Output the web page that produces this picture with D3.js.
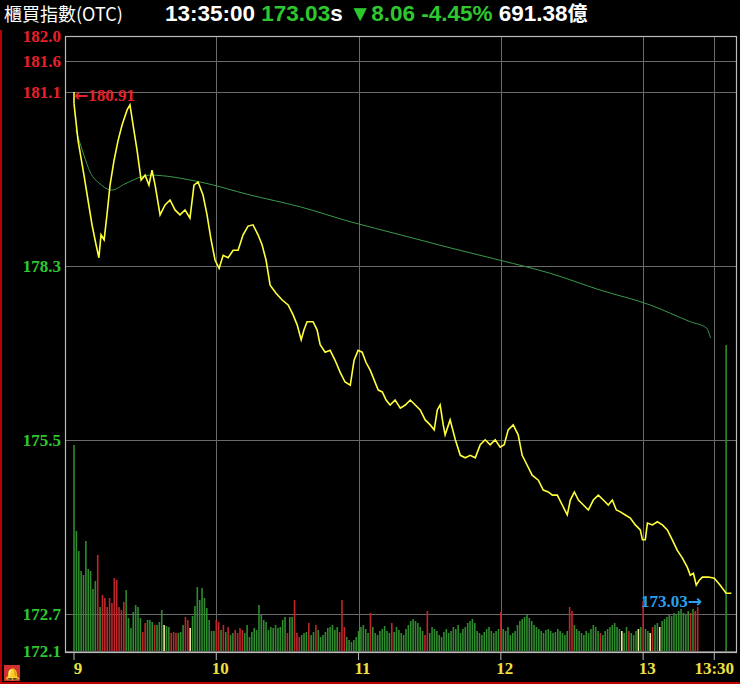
<!DOCTYPE html>
<html><head><meta charset="utf-8">
<script src="https://cdn.jsdelivr.net/npm/d3@7"></script>
<style>body{margin:0;background:#000}svg{display:block}</style>
</head><body>
<svg id="c" width="740" height="684"></svg>
<script>
// ---- data ----
const priceTicks = [182.0, 181.6, 181.1, 178.3, 175.5, 172.7, 172.1];
const refPrice = 180.91;
const lastPrice = 173.03;
const timeTicks = [0, 60, 120, 180, 240, 270];
const timeLabels = ["9", "10", "11", "12", "13", "13:30"];
// minutes after 9:00
const priceMin = [0,1.7,4.2,5.9,7.6,9.3,10.5,11.4,12.7,13.9,15.2,16.9,18.6,20.3,22.4,23.6,24.9,26.6,28.3,30,31.6,32.9,34.2,36.3,38.4,40.5,42.6,44.7,46.8,48.9,50.6,52.3,54.4,56.1,57.8,59.5,61.2,62.9,65,67.1,69.2,71.3,73.4,75.5,77.6,79.3,81,82.7,85.2,87.8,90.3,92.4,94.1,95.8,97,98.3,100.8,102.5,103.8,105.9,108,110.1,112.2,114.3,116.5,118.1,119.8,121.5,123.2,124.9,126.6,128.3,130,131.6,133.3,135.4,137.6,139.7,141.8,143.9,146,148.1,150.2,151.9,153.2,154.4,155.7,156.5,158.6,160.8,162.9,165,167.1,169.2,171.3,173.4,175.5,177.6,179.7,181.4,183.1,185.2,187.3,189,191.1,193.2,195.8,197.9,200,201.7,203.8,205.9,208,209.3,211,212.7,214.8,216.9,219,221.1,223.2,225.3,227,228.7,230.4,232.5,234.6,236.7,238.8,239.7,240.9,241.8,243.9,246,248.1,250.2,252.3,254.4,256.5,258.6,259.9,261.2,262.4,263.7,265,267.5,270,272.5,275,277.2];
const priceVal = [180.91,180.32,179.76,179.36,178.96,178.64,178.43,178.80,178.72,179.12,179.60,180.00,180.32,180.57,180.81,180.89,180.57,180.16,179.68,179.76,179.60,179.84,179.60,179.12,179.28,179.36,179.20,179.12,179.20,179.07,179.60,179.65,179.44,179.12,178.72,178.39,178.26,178.47,178.43,178.55,178.55,178.80,178.94,178.96,178.80,178.64,178.39,177.99,177.86,177.75,177.67,177.51,177.35,177.11,177.27,177.40,177.40,177.27,177.03,176.91,176.94,176.78,176.59,176.43,176.38,176.78,176.94,176.91,176.74,176.62,176.46,176.30,176.27,176.14,176.06,176.14,176.01,176.06,176.14,176.06,175.98,175.82,175.74,175.66,175.98,176.06,175.74,175.58,175.82,175.50,175.25,175.21,175.25,175.21,175.42,175.50,175.42,175.50,175.38,175.42,175.66,175.74,175.58,175.25,175.09,174.93,174.85,174.69,174.66,174.61,174.61,174.45,174.29,174.53,174.66,174.53,174.45,174.37,174.53,174.61,174.53,174.45,174.53,174.37,174.34,174.29,174.24,174.13,174.05,173.89,173.89,174.16,174.13,174.18,174.13,174.05,173.89,173.72,173.60,173.45,173.32,173.35,173.16,173.24,173.29,173.29,173.27,173.16,173.03,173.03];
const avgMin = [0.8,4.2,6.8,11,16,21.5,32.1,53.2,74.3,95.4,116.5,137.6,158.6,179.7,200.8,221.9,243,259.9,266.7,268.4];
const avgVal = [180.49,180.08,179.81,179.62,179.52,179.62,179.76,179.65,179.44,179.25,179.01,178.80,178.59,178.39,178.18,177.91,177.67,177.40,177.30,177.14];
// per-minute volume (relative units) and colour code (g=down, r=up, y=flat)
const volume = [
206,120,100,80,76,110,82,80,62,70,
96,44,56,53,44,53,48,73,71,44,
41,49,61,33,23,39,46,44,33,19,
28,31,31,29,26,26,29,41,26,25,
24,18,19,18,18,19,26,34,31,23,
35,45,64,51,63,53,43,31,20,20,
31,29,21,26,19,24,16,18,21,18,
23,21,18,26,14,19,23,21,46,36,
31,29,21,24,23,26,23,24,31,34,
18,34,34,51,18,14,16,18,19,28,
16,19,26,21,14,16,19,23,24,26,
21,24,19,51,24,14,11,9,11,14,
20,24,26,22,18,38,24,18,16,20,
22,25,20,18,28,19,24,21,18,16,
22,26,30,32,30,28,24,20,16,40,
18,24,22,20,16,14,19,22,18,20,
24,22,26,18,22,24,28,30,32,28,
20,18,16,19,22,24,20,18,20,22,
39,22,20,24,16,18,20,26,30,32,
34,36,33,30,26,24,22,20,18,21,
22,20,18,19,22,20,18,16,20,44,
40,26,22,20,18,16,20,18,22,26,
24,20,18,16,20,22,24,26,28,24,
22,20,18,24,20,18,16,20,22,24,
50,22,20,18,24,26,28,24,30,32,
34,36,35,38,36,40,42,38,36,40,
38,42,40,44,0,0,0,0,0,0,
0,0,0,0,0,306
];
const volColor = "gggggggggg rgrrrrrrrr rrgggggggr rgggrgggyg grrrgggrry gggggggggg rrgrgrggrr rrgggggggg gggggggggg rggrrrgggr ggrggggggg ggrrrggggg gggggrgggg ggggrggggg ggggggggrr gggggggggg gggggggggg gggggggggg rggggggggg gggggggggg gggggggggr rggggggggg ggrggggggg gyggrgggyg rggyrggygg gggggggggg rgrrgggggg gggggg".replace(/ /g,"");

// ---- layout ----
const svg = d3.select("#c");
const L = 65, R = 736, T = 36, B = 652;
const x = d3.scaleLinear().domain([0, 280]).range([74, 738]);
const y = d3.scaleLinear().domain([172.1, 182]).range([651, T]);
const v = d3.scaleLinear().domain([0, 306]).range([651, 345]);

svg.append("rect").attr("width",740).attr("height",684).attr("fill","#000");
svg.append("line").attr("x1",1).attr("x2",1).attr("y1",30).attr("y2",684).attr("stroke","#b00").attr("stroke-width",2);
svg.append("line").attr("x1",0).attr("x2",740).attr("y1",683).attr("y2",683).attr("stroke","#b00").attr("stroke-width",2);

// grid
const g = svg.append("g");
g.selectAll(".hg").data(priceTicks).join("line")
  .attr("x1",L).attr("x2",R).attr("y1",d=>Math.round(y(d))+0.5).attr("y2",d=>Math.round(y(d))+0.5)
  .attr("stroke","#6a6a6a").attr("stroke-width",1);
g.selectAll(".vg").data(timeTicks.slice(1)).join("line")
  .attr("x1",d=>Math.round(x(d))+0.5).attr("x2",d=>Math.round(x(d))+0.5).attr("y1",T).attr("y2",B)
  .attr("stroke","#6a6a6a");

// volume
svg.append("g").selectAll("rect").data(volume).join("rect")
  .attr("x",(d,i)=>x(i)-0.8).attr("width",1.6)
  .attr("y",d=>v(d)).attr("height",d=>651-v(d))
  .attr("fill",(d,i)=>{const c=volColor[i]||"g";return c==="r"?"#c0262a":c==="y"?"#f0e6a0":"#2e8b2e";});

// frame
svg.append("rect").attr("x",L+0.5).attr("y",T+0.5).attr("width",R-L).attr("height",B-T)
  .attr("fill","none").attr("stroke","#bbb").attr("stroke-width",1.2);

// avg line
svg.append("path").datum(avgMin.map((m,i)=>[m,avgVal[i]]))
  .attr("d",d3.line().x(d=>x(d[0])).y(d=>y(d[1])).curve(d3.curveMonotoneX))
  .attr("fill","none").attr("stroke","#3a9a4a").attr("stroke-width",1);
// price line
svg.append("path").datum(priceMin.map((m,i)=>[m,priceVal[i]]))
  .attr("d",d3.line().x(d=>x(d[0])).y(d=>y(d[1])))
  .attr("fill","none").attr("stroke","#ffff3a").attr("stroke-width",1.6);
svg.append("line").attr("x1",x(0)).attr("x2",x(0)).attr("y1",y(181.1)).attr("y2",y(refPrice)).attr("stroke","#ffff3a").attr("stroke-width",1.6);

// y labels
svg.append("g").selectAll("text").data(priceTicks).join("text")
  .attr("x",61).attr("y",d=>y(d)+6).attr("text-anchor","end")
  .attr("font-family","'Liberation Serif',serif").attr("font-weight","bold").attr("font-size",17)
  .attr("fill",d=>d>refPrice?"#e8202a":"#2ec82e").text(d=>d.toFixed(1));
// x labels and ticks
svg.append("g").selectAll("text").data(timeTicks).join("text")
  .attr("x",(d,i)=>x(d)+(i===5?0:4)).attr("y",674).attr("text-anchor","middle")
  .attr("font-family","'Liberation Serif',serif").attr("font-weight","bold").attr("font-size",17)
  .attr("fill","#f0e040").text((d,i)=>timeLabels[i]);
svg.append("g").selectAll("line").data(timeTicks).join("line")
  .attr("x1",d=>x(d)).attr("x2",d=>x(d)).attr("y1",B).attr("y2",B+8).attr("stroke","#bbb");

// annotations
const ra = svg.append("text").attr("x",74).attr("y",y(181.1)+9).attr("fill","#e8202a")
  .attr("font-family","'Liberation Serif',serif").attr("font-weight","bold").attr("font-size",17);
ra.append("tspan").attr("font-family","'DejaVu Sans',sans-serif").text("\u2190");
ra.append("tspan").text(refPrice.toFixed(2));
const la = svg.append("text").attr("x",702).attr("y",y(lastPrice)+14).attr("text-anchor","end").attr("fill","#2aa0f0")
  .attr("font-family","'Liberation Serif',serif").attr("font-weight","bold").attr("font-size",17);
la.append("tspan").text(lastPrice.toFixed(2));
la.append("tspan").attr("font-family","'DejaVu Sans',sans-serif").text("\u2192");

// header
svg.append("text").attr("x",4).attr("y",21).attr("fill","#fff")
  .attr("font-family","'Noto Sans CJK TC',sans-serif").attr("font-size",18).text("櫃買指數(OTC)");
const hb = svg.append("text").attr("y",21).attr("font-family","'Liberation Sans',Arial,sans-serif").attr("font-weight","bold").attr("font-size",22.5);
hb.append("tspan").attr("x",165).attr("fill","#fff").text("13:35:00 ");
hb.append("tspan").attr("fill","#2ec82e").text("173.03");
hb.append("tspan").attr("fill","#fff").text("s ");
hb.append("tspan").attr("fill","#2ec82e").text("\u25BC8.06 -4.45% ");
hb.append("tspan").attr("fill","#fff").text("691.38");
hb.append("tspan").attr("fill","#fff").attr("font-family","'Noto Sans CJK TC',sans-serif").attr("font-size",20).text("億");

// bell icon
svg.append("rect").attr("x",4).attr("y",665).attr("width",16).attr("height",16).attr("fill","#d03030");
svg.append("text").attr("x",12).attr("y",678).attr("text-anchor","middle").attr("font-size",12).attr("fill","#ffd24a").text("🔔");
</script>
</body></html>
